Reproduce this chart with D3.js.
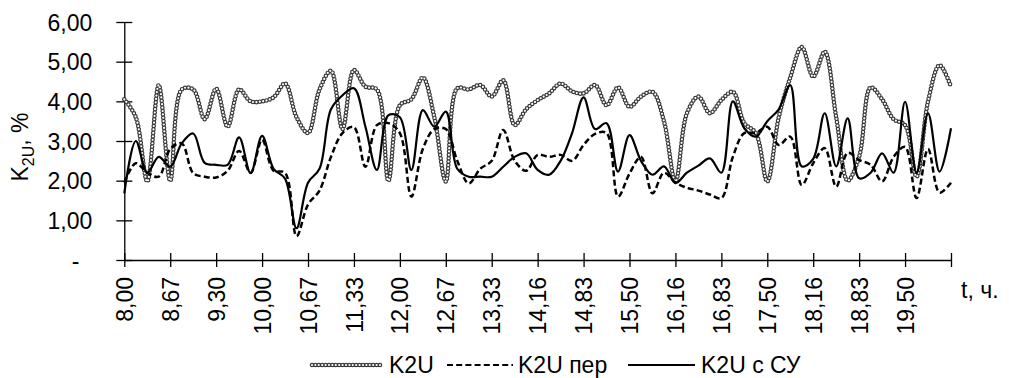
<!DOCTYPE html>
<html>
<head>
<meta charset="utf-8">
<script src="https://cdn.jsdelivr.net/npm/d3@7/dist/d3.min.js"></script>
<style>
  body { margin: 0; background: #fff; }
  text { font-family: "Liberation Sans", Arial, sans-serif; fill: #000; }
</style>
</head>
<body>
<div id="graph"></div>
<script>
// Подписи оси X (каждая 4-я точка, шаг 10 мин)
const tickLabels = ["8,00", "8,67", "9,30", "10,00", "10,67", "11,33", "12,00", "12,67", "13,33",
  "14,16", "14,83", "15,50", "16,16", "16,83", "17,50", "18,16", "18,83", "19,50"]

const yTicks = [0, 1, 2, 3, 4, 5, 6]

const seriesNames = ["K2U", "K2U пер", "K2U с СУ"]

const k2u = [4.05, 3.6, 1.98, 4.41, 2.0, 4.3, 4.3, 3.55, 4.32, 3.36, 4.3, 4.0, 4.0, 4.1, 4.45, 3.6,
  3.2, 4.3, 4.77, 3.3, 4.79, 4.37, 4.3, 2.0, 3.9, 4.05, 4.6, 3.6, 1.98, 4.33, 4.3, 4.41,
  4.12, 4.53, 3.4, 3.8, 4.03, 4.2, 4.45, 4.25, 4.2, 4.41, 3.9, 4.35, 3.86, 4.12, 4.24, 3.5,
  1.98, 3.7, 4.12, 3.7, 4.03, 4.24, 3.45, 3.2, 1.98, 3.6, 4.6, 5.37, 4.62, 5.25, 3.6, 2.0,
  2.6, 4.35, 4.05, 3.55, 3.4, 2.1, 4.0, 4.91, 4.37]

const k2uPer = [1.95, 2.44, 2.2, 2.1, 2.8, 2.94, 2.19, 2.1, 2.08, 2.25, 2.75, 2.2, 3.03, 2.25, 2.2, 0.6,
  1.4, 1.75, 2.6, 3.2, 3.35, 2.35, 3.4, 3.45, 3.2, 1.6, 2.8, 3.3, 3.3, 2.5, 1.93, 2.3,
  2.5, 3.28, 2.5, 2.25, 2.65, 2.6, 2.65, 2.5, 2.9, 3.18, 3.2, 1.6, 2.18, 2.6, 1.68, 2.2,
  1.95, 1.82, 1.75, 1.65, 1.56, 2.6, 3.2, 3.2, 3.36, 2.9, 3.11, 1.89, 2.44, 2.82, 1.85, 2.7,
  2.52, 2.4, 1.98, 2.6, 2.85, 1.56, 2.8, 1.7, 1.95]

const k2uSu = [1.68, 3.0, 2.2, 2.6, 2.35, 2.94, 3.19, 2.45, 2.4, 2.4, 3.09, 2.19, 3.13, 2.3, 2.05, 0.8,
  1.95, 2.3, 3.8, 4.15, 4.33, 3.36, 2.27, 3.65, 3.6, 2.27, 3.78, 3.36, 3.74, 2.3, 2.1, 2.1,
  2.1, 2.35, 2.6, 2.69, 2.27, 2.15, 2.5, 3.2, 4.1, 3.3, 3.45, 2.23, 3.15, 2.5, 2.15, 2.36,
  1.94, 2.2, 2.38, 2.56, 2.2, 4.0, 3.32, 3.11, 3.5, 3.8, 4.41, 2.36, 2.55, 3.7, 2.36, 3.57,
  2.06, 2.2, 2.69, 2.2, 3.99, 2.19, 3.7, 2.23, 3.32]

const dimensions = { width: 1009, height: 378 }
const margin = { left: 124.3, right: 58, top: 22, bottom: 118 }
const fontSize = 23

const svg = d3.select("#graph")
  .append("svg")
    .attr("width", dimensions.width)
    .attr("height", dimensions.height)
    .style("background", "#fff")

const n = k2u.length - 1

const xScale = d3.scaleLinear()
  .domain([0, n])
  .range([margin.left, dimensions.width - margin.right])

const yScale = d3.scaleLinear()
  .domain([0, 6])
  .range([dimensions.height - margin.bottom, margin.top])

// Ось X
const xAxis = svg.append("g")
  .attr("transform", `translate(0,${yScale(0)})`)
  .call(d3.axisBottom(xScale)
    .tickValues(d3.range(0, n + 1, 4))
    .tickSize(7)
    .tickSizeOuter(0)
    .tickFormat((d, i) => tickLabels[i] ?? ""))

xAxis.select(".domain").attr("stroke", "#000").attr("stroke-width", 1.3)
xAxis.selectAll(".tick line").attr("y1", -7).attr("stroke-width", 1.3)
xAxis.selectAll(".tick text")
  .attr("transform", "rotate(-90)")
  .attr("x", -17)
  .attr("y", 0)
  .attr("dy", "0.35em")
  .attr("text-anchor", "end")
  .style("font-size", fontSize + "px")

// Ось Y
const yAxis = svg.append("g")
  .attr("transform", `translate(${margin.left},0)`)
  .call(d3.axisLeft(yScale)
    .tickValues(yTicks)
    .tickSize(8)
    .tickSizeOuter(0)
    .tickFormat(d => d === 0 ? "-" : d.toFixed(2).replace(".", ",")))

yAxis.select(".domain").attr("stroke", "#000").attr("stroke-width", 1.3)
yAxis.selectAll(".tick line").attr("x1", 8).attr("stroke-width", 1.3)
yAxis.selectAll(".tick text")
  .attr("x", d => d === 0 ? -45 : -32)
  .attr("dy", "0.35em")
  .style("font-size", fontSize + "px")

// Подписи осей
const yTitle = svg.append("text")
  .attr("transform", "translate(28,147) rotate(-90)")
  .attr("text-anchor", "middle")
  .style("font-size", fontSize + "px")
yTitle.append("tspan").text("K")
yTitle.append("tspan").attr("dy", 6).style("font-size", "16px").text("2U")
yTitle.append("tspan").attr("dy", -6).text(", %")

svg.append("text")
  .attr("x", 961)
  .attr("y", 290)
  .attr("dy", "0.35em")
  .style("font-size", fontSize + "px")
  .text("t, ч.")

// Линии
const line = d3.line()
  .x((d, i) => xScale(i))
  .y(d => yScale(d))
  .curve(d3.curveCatmullRom.alpha(0.5))

const lines = svg.append("g").attr("fill", "none")

// K2U — цепочка колечек: тёмные кружки, сверху белые центры
const ringPath = (parent, d) => {
  parent.append("path")
    .attr("d", d)
    .attr("fill", "none")
    .attr("stroke", "#3a3a3a")
    .attr("stroke-width", 4.6)
    .attr("stroke-linecap", "round")
    .attr("stroke-dasharray", "0 3.4")
  parent.append("path")
    .attr("d", d)
    .attr("fill", "none")
    .attr("stroke", "#fff")
    .attr("stroke-width", 2.2)
    .attr("stroke-linecap", "round")
    .attr("stroke-dasharray", "0 3.4")
}

ringPath(lines, line(k2u))

lines.append("path")
  .attr("d", line(k2uPer))
  .attr("stroke", "#000")
  .attr("stroke-width", 2.5)
  .attr("stroke-dasharray", "6 3.2")

lines.append("path")
  .attr("d", line(k2uSu))
  .attr("stroke", "#000")
  .attr("stroke-width", 2.2)

// Легенда
const legendY = 365
const legendItems = [
  { name: seriesNames[0], x1: 312, x2: 382, tx: 389 },
  { name: seriesNames[1], x1: 447, x2: 513, tx: 518 },
  { name: seriesNames[2], x1: 628, x2: 695, tx: 701 }
]

const legend = svg.append("g")

legendItems.forEach((item, i) => {
  if (i === 0) {
    ringPath(legend, `M${item.x1},${legendY}H${item.x2}`)
  } else {
    const ln = legend.append("line")
      .attr("x1", item.x1).attr("x2", item.x2)
      .attr("y1", legendY).attr("y2", legendY)
      .attr("stroke", "#000").attr("stroke-width", 2.2)
    if (i === 1) ln.attr("stroke-dasharray", "6 3.2")
  }
  legend.append("text")
    .attr("x", item.tx)
    .attr("y", legendY)
    .attr("dy", "0.35em")
    .style("font-size", fontSize + "px")
    .text(item.name)
})
</script>
</body>
</html>
